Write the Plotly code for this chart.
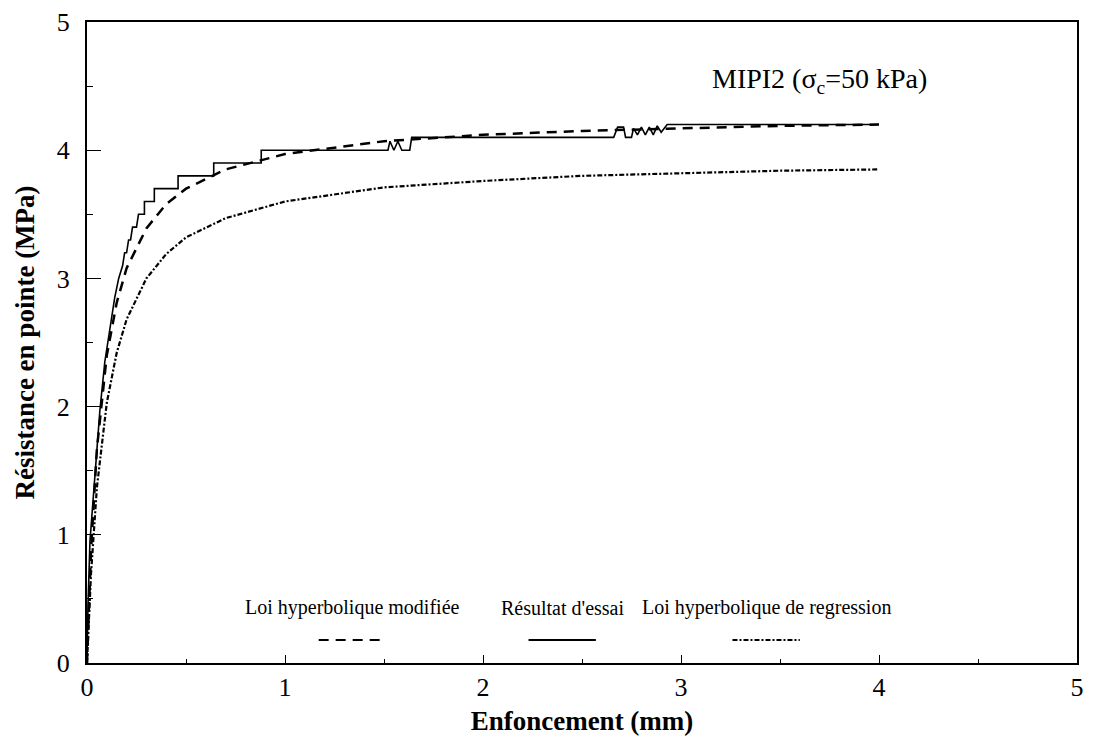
import plotly.graph_objects as go

# Résultat d'essai (stepped test record)
essai_x = [0, 0.005, 0.015, 0.04, 0.065, 0.09, 0.115, 0.14, 0.16, 0.18, 0.19, 0.20, 0.21, 0.22,
           0.23, 0.25, 0.26, 0.29, 0.29, 0.34, 0.34, 0.46, 0.46, 0.64, 0.64, 0.88, 0.88, 1.52,
           1.53, 1.55, 1.57, 1.59, 1.63, 1.64, 2.66, 2.68, 2.71, 2.72, 2.75, 2.76, 2.78, 2.80,
           2.82, 2.84, 2.86, 2.88, 2.90, 2.93, 4.0]
essai_y = [0, 0.45, 0.95, 1.5, 1.97, 2.35, 2.6, 2.85, 3.0, 3.1, 3.2, 3.2, 3.3, 3.3,
           3.4, 3.4, 3.5, 3.5, 3.6, 3.6, 3.7, 3.7, 3.8, 3.8, 3.9, 3.9, 4.0, 4.0,
           4.07, 4.0, 4.07, 4.0, 4.0, 4.1, 4.1, 4.18, 4.18, 4.1, 4.1, 4.17, 4.12, 4.18,
           4.12, 4.18, 4.12, 4.19, 4.14, 4.2, 4.2]

# Loi hyperbolique modifiée
mod_x = [0, 0.02, 0.05, 0.1, 0.15, 0.2, 0.3, 0.4, 0.5, 0.7, 1.0, 1.5, 2.0, 2.5, 3.0, 3.5, 4.0]
mod_y = [0, 0.87, 1.67, 2.40, 2.81, 3.08, 3.39, 3.58, 3.70, 3.85, 3.97, 4.07, 4.12, 4.15, 4.17, 4.19, 4.20]

# Loi hyperbolique de regression
reg_x = [0, 0.02, 0.05, 0.1, 0.15, 0.2, 0.3, 0.4, 0.5, 0.7, 1.0, 1.5, 2.0, 2.5, 3.0, 3.5, 4.0]
reg_y = [0, 0.69, 1.37, 2.03, 2.42, 2.68, 3.00, 3.19, 3.32, 3.47, 3.60, 3.71, 3.76, 3.80, 3.82, 3.84, 3.85]

legend_labels = ["Loi hyperbolique modifiée", "Résultat d'essai", "Loi hyperbolique de regression"]
legend_x = [1.34, 2.40, 3.43]

SERIF = "Liberation Serif, Times New Roman, serif"

fig = go.Figure()
fig.add_trace(go.Scatter(x=reg_x, y=reg_y, mode="lines",
                         line=dict(color="black", width=2.2, dash="5px,2px,2px,2px")))
fig.add_trace(go.Scatter(x=mod_x, y=mod_y, mode="lines",
                         line=dict(color="black", width=2.5, dash="10px,7px")))
fig.add_trace(go.Scatter(x=essai_x, y=essai_y, mode="lines",
                         line=dict(color="black", width=1.6)))

# custom legend: text above, line sample below
dashes = ["10px,7px", "solid", "5px,2px,2px,2px"]
for lab, lx, d in zip(legend_labels, legend_x, dashes):
    fig.add_annotation(x=lx, y=0.43, text=lab, showarrow=False,
                       font=dict(family=SERIF, size=20, color="black"))
    fig.add_shape(type="line", x0=lx - 0.17, x1=lx + 0.17, y0=0.18, y1=0.18,
                  line=dict(color="black", width=2, dash=d))

fig.add_annotation(x=3.70, y=4.54, text="MIPI2 (σ<sub>c</sub>=50 kPa)", showarrow=False,
                   font=dict(family=SERIF, size=28, color="black"))

axis_common = dict(showline=True, linecolor="black", linewidth=2, mirror=True,
                   showgrid=False, zeroline=False, ticks="inside", tickcolor="black",
                   automargin=False, ticklabeloverflow="allow",
                   tickfont=dict(family=SERIF, size=26, color="black"))

fig.update_xaxes(range=[0, 5], tickvals=[0, 1, 2, 3, 4, 5], ticklen=8,
                 minor=dict(dtick=0.5, ticks="inside", ticklen=4, tickcolor="black"),
                 title=dict(text="<b>Enfoncement (mm)</b>", standoff=10,
                            font=dict(family=SERIF, size=27, color="black")),
                 **axis_common)
fig.update_yaxes(range=[0, 5], tickvals=[0, 1, 2, 3, 4, 5], ticklen=14,
                 ticklabelstandoff=10,
                 minor=dict(dtick=0.5, ticks="inside", ticklen=6, tickcolor="black"),
                 title=dict(text="<b>Résistance en pointe (MPa)</b>", standoff=14,
                            font=dict(family=SERIF, size=27, color="black")),
                 **axis_common)

fig.update_layout(width=1100, height=751, showlegend=False,
                  plot_bgcolor="white", paper_bgcolor="white",
                  margin=dict(l=79, r=31, t=14, b=96))

fig.write_html("out.html")
